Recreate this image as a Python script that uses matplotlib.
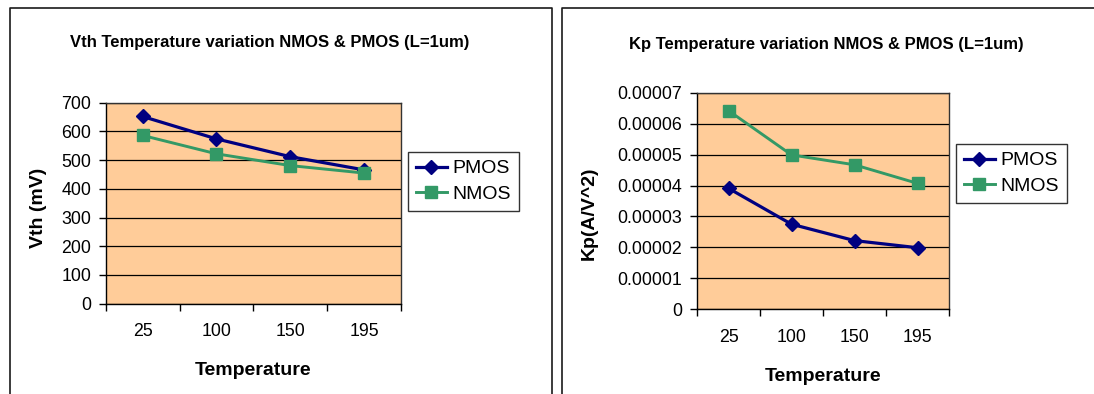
import matplotlib
matplotlib.use('Agg')
import matplotlib.pyplot as plt
from matplotlib.lines import Line2D
from matplotlib.ticker import FixedLocator, FixedFormatter

plt.rcParams['font.family'] = ['Liberation Sans', 'DejaVu Sans']

temps = ['25', '100', '150', '195']
vth_pmos = [652, 574, 512, 466]
vth_nmos = [586, 522, 481, 455]
kp_pmos = [3.91e-5, 2.75e-5, 2.22e-5, 1.99e-5]
kp_nmos = [6.42e-5, 4.99e-5, 4.67e-5, 4.07e-5]
vth_ticks = [0, 100, 200, 300, 400, 500, 600, 700]
kp_ticks = [0, 1e-5, 2e-5, 3e-5, 4e-5, 5e-5, 6e-5, 7e-5]
kp_tick_labels = ['0', '0.00001', '0.00002', '0.00003', '0.00004', '0.00005', '0.00006', '0.00007']

W, H = 1094, 394
fig = plt.figure(figsize=(W / 100, H / 100), dpi=100)


def px_axes(x0, y0, x1, y1):
    return fig.add_axes([x0 / W, 1 - y1 / H, (x1 - x0) / W, (y1 - y0) / H])


def fig_line(xs, ys):
    fig.add_artist(Line2D([x / W for x in xs], [1 - y / H for y in ys],
                          transform=fig.transFigure, color='#1a1a1a', lw=1.2))


# panel borders
fig_line([10, 10, 552, 552], [394, 8, 8, 394])
fig_line([562, 562, 1094], [394, 8, 8])


def style(ax, pmos, nmos, ticks, labels):
    x = range(len(temps))
    ax.set_facecolor('#FFCC99')
    ax.plot(x, pmos, color='#000080', lw=2.3, marker='D', ms=7, label='PMOS', zorder=3)
    ax.plot(x, nmos, color='#339966', lw=2.1, marker='s', ms=8, label='NMOS', zorder=3)
    ax.set_xlim(-0.5, len(temps) - 0.5)
    ax.set_ylim(ticks[0], ticks[-1])
    ax.yaxis.set_major_locator(FixedLocator(ticks))
    ax.yaxis.set_major_formatter(FixedFormatter(labels))
    ax.xaxis.set_major_locator(FixedLocator(list(x)))
    ax.xaxis.set_major_formatter(FixedFormatter(temps))
    ax.xaxis.set_minor_locator(FixedLocator([i - 0.5 for i in range(len(temps) + 1)]))
    ax.tick_params(axis='x', which='major', length=0, pad=14, labelsize=12.8)
    ax.tick_params(axis='x', which='minor', length=5, width=1, direction='out')
    ax.tick_params(axis='y', length=5, width=1, direction='out', pad=5.5, labelsize=12.8)
    ax.grid(axis='y', color='black', lw=0.9)
    ax.set_axisbelow(True)
    for s in ax.spines.values():
        s.set_color('#333333')
        s.set_linewidth(1)
    ax.spines['left'].set_color('black')
    ax.spines['bottom'].set_color('black')


def add_legend(ax, x, y):
    ax.legend(loc='upper left', bbox_to_anchor=(x / W, 1 - y / H),
              bbox_transform=fig.transFigure, frameon=True, fancybox=False,
              edgecolor='black', fontsize=14, handlelength=1.6, borderpad=0.4,
              labelspacing=0.42, handletextpad=0.3, borderaxespad=0)


ax1 = px_axes(105.7, 102.7, 401, 303.7)
style(ax1, vth_pmos, vth_nmos, vth_ticks, [str(t) for t in vth_ticks])
fig.text(270 / W, 1 - 43 / H, 'Vth Temperature variation NMOS & PMOS (L=1um)',
         ha='center', va='center', fontsize=12, fontweight='bold')
ax1.set_xlabel('Temperature', fontsize=14, fontweight='bold')
ax1.xaxis.set_label_coords(253 / W, 1 - 362 / H, transform=fig.transFigure)
ax1.set_ylabel('Vth (mV)', fontsize=14, fontweight='bold')
ax1.yaxis.set_label_coords(47 / W, 1 - 208 / H, transform=fig.transFigure)
add_legend(ax1, 408, 152)

ax2 = px_axes(697, 92.7, 949, 309.3)
style(ax2, kp_pmos, kp_nmos, kp_ticks, kp_tick_labels)
fig.text(826 / W, 1 - 45 / H, 'Kp Temperature variation NMOS & PMOS (L=1um)',
         ha='center', va='center', fontsize=12, fontweight='bold')
ax2.set_xlabel('Temperature', fontsize=14, fontweight='bold')
ax2.xaxis.set_label_coords(823 / W, 1 - 368 / H, transform=fig.transFigure)
ax2.set_ylabel('Kp(A/V^2)', fontsize=14, fontweight='bold')
ax2.yaxis.set_label_coords(598 / W, 1 - 213 / H, transform=fig.transFigure)
add_legend(ax2, 956, 144)

fig.savefig('out.png', dpi=100)
